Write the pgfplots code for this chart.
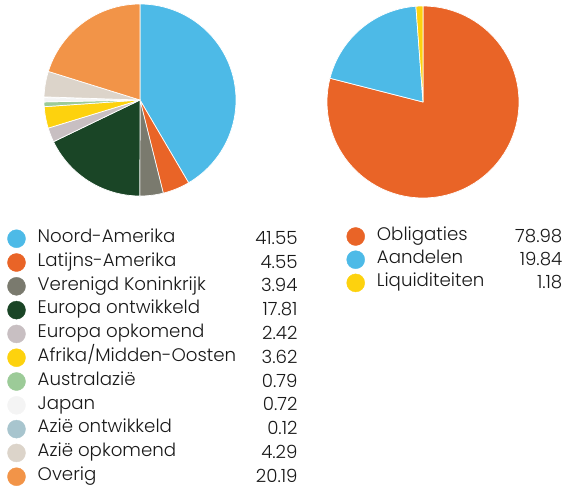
\documentclass[border=0pt]{standalone}
\usepackage{pgfplots}
\usepackage{pgfplotstable}
\pgfplotsset{compat=1.18}
\usepackage{fontspec}
\setmainfont{Poppins}[UprightFont=* Light]

\definecolor{cNA}{HTML}{4DBAE7}
\definecolor{cLA}{HTML}{E96427}
\definecolor{cUK}{HTML}{7A7A6E}
\definecolor{cEO}{HTML}{1A4526}
\definecolor{cEP}{HTML}{C8BFC2}
\definecolor{cAF}{HTML}{FDD20E}
\definecolor{cAU}{HTML}{9CCB98}
\definecolor{cJP}{HTML}{F4F4F4}
\definecolor{cAO}{HTML}{A8C5CE}
\definecolor{cAP}{HTML}{DCD4CA}
\definecolor{cOV}{HTML}{F29448}

\pgfplotstableread[col sep=semicolon]{
label;value;color;y
Noord-Amerika;41.55;cNA;238.7
Latijns-Amerika;4.55;cLA;262.5
Verenigd Koninkrijk;3.94;cUK;286.3
Europa ontwikkeld;17.81;cEO;310.1
Europa opkomend;2.42;cEP;333.9
Afrika/Midden-Oosten;3.62;cAF;357.7
Australazië;0.79;cAU;381.5
Japan;0.72;cJP;405.3
Azië ontwikkeld;0.12;cAO;429.1
Azië opkomend;4.29;cAP;452.9
Overig;20.19;cOV;476.7
}\regiontable

\pgfplotstableread[col sep=semicolon]{
label;value;color;y
Obligaties;78.98;cLA;236.5
Aandelen;19.84;cNA;259.7
Liquiditeiten;1.18;cAF;282.9
}\assettable

% draws one pie from a table: #1 table, #2 cx, #3 cy, #4 radius
\newcommand{\drawpie}[4]{%
  \pgfplotstablegetrowsof{#1}%
  \pgfmathtruncatemacro{\N}{\pgfplotsretval-1}%
  \def\cum{0}%
  \pgfplotsforeachungrouped \i in {0,...,\N}{%
    \pgfplotstablegetelem{\i}{value}\of{#1}\let\v\pgfplotsretval
    \pgfplotstablegetelem{\i}{color}\of{#1}\let\c\pgfplotsretval
    \pgfmathsetmacro{\a}{90-3.6*\cum}%
    \pgfmathsetmacro{\b}{90-3.6*(\cum+\v)}%
    \edef\temp{\noexpand\addplot[fill=\c, draw=white, line width=0.7bp, line join=round, domain=\b:\a, samples=80, variable=\noexpand\t]
      ({#2+#4*cos(\noexpand\t)},{#3-#4*sin(\noexpand\t)}) -- (axis cs:#2,#3) -- cycle;}%
    \temp
    \pgfmathsetmacro{\cum}{\cum+\v}%
  }%
}

% legend rows from a table: #1 table, #2 marker x, #3 label x, #4 value right x
\newcommand{\drawlegend}[4]{%
  \addplot[only marks, scatter, point meta=explicit symbolic,
    scatter/classes={cNA={mark=*,cNA}, cLA={mark=*,cLA}, cUK={mark=*,cUK}, cEO={mark=*,cEO},
      cEP={mark=*,cEP}, cAF={mark=*,cAF}, cAU={mark=*,cAU}, cJP={mark=*,cJP},
      cAO={mark=*,cAO}, cAP={mark=*,cAP}, cOV={mark=*,cOV}},
    mark size=9bp]
    table[x expr=#2, y=y, meta=color]{#1};
  \addplot[only marks, mark=none, nodes near coords, point meta=explicit symbolic,
    nodes near coords style={anchor=west, inner sep=0pt, text height=12.6bp, text depth=0pt, yshift=2.5bp, font=\fontsize{18.2bp}{20bp}\selectfont, text=black!90}]
    table[x expr=#3, y=y, meta=label]{#1};
  \addplot[only marks, mark=none, nodes near coords, point meta=explicit symbolic,
    nodes near coords style={anchor=east, inner sep=0pt, text height=12.6bp, text depth=0pt, yshift=0.8bp, font=\fontsize{18.2bp}{20bp}\selectfont, text=black!90}]
    table[x expr=#4, y=y, meta=value]{#1};
}

\begin{document}
\begin{tikzpicture}
\useasboundingbox (0,0) rectangle (567bp,490bp);
\begin{axis}[
  at={(0,0)}, anchor=south west,
  width=567bp, height=490bp, scale only axis,
  xmin=0, xmax=567, ymin=0, ymax=490, y dir=reverse,
  hide axis, clip=false]
  \drawpie{\regiontable}{140}{100}{96}
  \drawpie{\assettable}{423}{102}{96}
  \drawlegend{\regiontable}{16.5}{37.5}{297.7}
  \drawlegend{\assettable}{355.7}{376.7}{562.5}
\end{axis}
\end{tikzpicture}
\end{document}
